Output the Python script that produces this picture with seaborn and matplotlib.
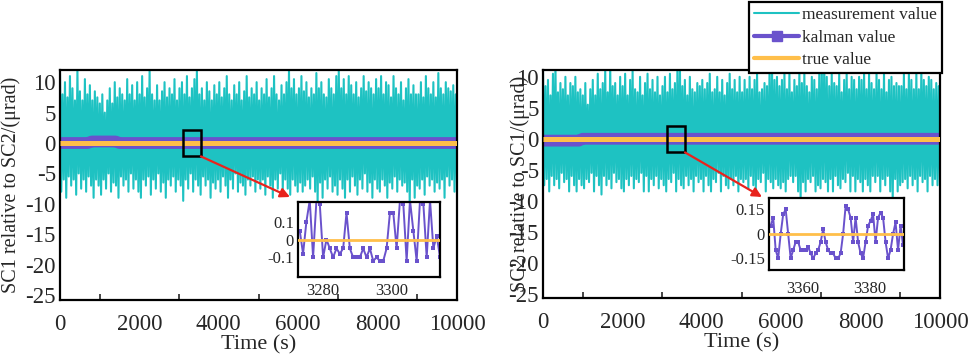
import numpy as np
import pandas as pd
import matplotlib
matplotlib.use("Agg")
import matplotlib.pyplot as plt
import seaborn as sns
from matplotlib.lines import Line2D
from matplotlib.patches import Rectangle
from matplotlib.ticker import MultipleLocator, FixedLocator

# ---------------- data ----------------
# measurement value envelope (alternating peaks/troughs read from the picture)
left_meas_hi = [
    11.5, 8, 10, 7.5, 11, 9, 7, 12, 8.5, 7, 10.5, 8, 9.5, 7, 8.5, 7.5,
    6.5, 8, 5, 7, 9, 6.5, 10, 7.5, 9, 8, 7, 10.5, 8, 9.5, 7, 10,
    8, 11, 7.5, 9, 12, 8, 7, 9.5, 7, 8.5, 10, 7.5, 9, 8, 10.5, 7,
    9, 10, 8, 11, 7.5, 9, 10.5, 12, 8, 9, 7, 10, 8.5, 7, 9.5, 8,
    10, 7.5, 9, 11, 8, 7, 9.5, 8, 10, 7, 8.5, 11, 7.5, 9, 8, 10,
    7, 9, 8, 10.5, 7.5, 9, 11, 8, 7, 9.5, 8, 10, 12, 9, 10.5, 8,
    9, 11, 8.5, 10, 7.5, 9, 8, 11.5, 9, 10, 8, 7.5, 10.5, 9, 8, 11,
    12, 9, 10.5, 8, 11, 9.5, 8, 10, 7.5, 9, 11, 8.5, 10, 9, 8, 10.5,
    9, 11, 8, 10, 9.5, 7.5, 11, 9, 8, 10, 7, 9, 10.5, 8, 9.5, 8,
    8, 10, 7.5, 11, 9, 8, 10, 7.5, 11.5, 9, 8, 10, 9, 8.5, 9.5, 8,
]
left_meas_lo = [
    -8, -6, -9, -5.5, -7, -6, -8.5, -5, -7.5, -6, -8, -5.5, -7, -9, -6, -7,
    -8.5, -6, -7.5, -5, -8, -6.5, -7, -9, -5.5, -7, -6, -8, -5, -7.5, -6, -8,
    -9, -6, -7, -5.5, -8.5, -6, -7.5, -5, -8, -6.5, -9, -6, -7, -5.5, -8, -6,
    -7, -9.5, -6, -7.5, -5, -8, -6, -7, -8.5, -5.5, -7, -6, -9, -6.5, -7.5, -6,
    -8, -5.5, -7, -9, -6, -7.5, -5, -8, -6.5, -7, -8.5, -6, -7, -5.5, -8, -6,
    -7.5, -6, -8.5, -5.5, -7, -9, -6, -7.5, -5, -8, -6, -7.5, -8.5, -6, -7, -8,
    -6.5, -8, -7, -6, -7.5, -5.5, -8, -10, -6.5, -9, -6, -7.5, -5.5, -8, -7, -8.5,
    -6, -7.5, -9, -6, -8, -5.5, -7, -8.5, -6, -7.5, -5, -8, -6.5, -9, -6, -7.5,
    -8, -6, -7, -9, -6.5, -7.5, -5.5, -8, -6, -7, -6.5, -8, -10, -6, -9, -7,
    -7.5, -6, -8.5, -5.5, -7, -6, -8, -6.5, -7.5, -6, -9, -5.5, -7, -6, -8, -6.5,
]
right_meas_hi = [
    11, 8.5, 9.5, 7, 10.5, 12, 7.5, 9, 8, 10, 7, 9, 8.5, 10, 7.5, 8,
    7, 9, 5.5, 8, 9.5, 7, 10.5, 8, 9, 11, 7.5, 12, 8.5, 9, 7, 10,
    8.5, 10.5, 7, 9.5, 11, 8, 7.5, 10, 7, 9, 10.5, 8, 9.5, 7.5, 10, 7,
    8.5, 10, 7.5, 10.5, 8, 9, 11, 12, 8.5, 9.5, 7, 10, 8, 7.5, 9, 8.5,
    9.5, 8, 9, 10.5, 7.5, 8, 10, 7.5, 9.5, 7, 9, 10.5, 8, 9.5, 7.5, 10,
    7.5, 9.5, 8, 10, 8, 9.5, 10.5, 7.5, 8, 9, 8.5, 10.5, 12, 9.5, 10, 8.5,
    9.5, 10.5, 8, 10.5, 7.5, 9.5, 8.5, 11, 9, 10.5, 8.5, 7.5, 10, 9.5, 8, 10.5,
    11.5, 12, 10, 8.5, 10.5, 9, 8.5, 10.5, 7.5, 9.5, 10.5, 8, 10, 9.5, 8, 10,
    9.5, 10.5, 8, 10.5, 9, 8, 10.5, 9.5, 8, 10.5, 7.5, 9.5, 10, 8.5, 9, 8.5,
    8.5, 10.5, 8, 10.5, 9.5, 8, 10.5, 8, 11, 9.5, 8.5, 10, 9.5, 8, 9, 8.5,
]
right_meas_lo = [
    -7.5, -6.5, -8.5, -6, -7.5, -6.5, -8, -5.5, -7, -6.5, -8.5, -6, -7.5, -8.5, -6.5, -7.5,
    -8, -6.5, -7, -5.5, -8.5, -6, -7.5, -9, -6, -7.5, -6.5, -8, -5.5, -7, -6.5, -8,
    -8.5, -6.5, -7.5, -6, -8, -6.5, -7, -5.5, -8.5, -6, -8.5, -6.5, -7.5, -6, -8, -6.5,
    -7.5, -8.5, -6.5, -7, -5.5, -8.5, -6.5, -7.5, -8, -6, -7.5, -6.5, -8.5, -6, -7, -6.5,
    -8.5, -6, -7.5, -8.5, -6.5, -7, -5.5, -8.5, -6, -7.5, -8, -6.5, -7.5, -6, -8.5, -6.5,
    -7, -6.5, -8, -6, -7.5, -8.5, -6.5, -7, -5.5, -8.5, -6.5, -7, -8, -6.5, -7.5, -8,
    -7, -8.5, -6.5, -6, -7, -6, -8.5, -10, -7, -8.5, -6.5, -7, -6, -8.5, -7.5, -8,
    -6.5, -7, -8.5, -6.5, -8.5, -6, -7.5, -8, -6.5, -7, -5.5, -8.5, -6, -8.5, -6.5, -7,
    -8.5, -6.5, -7.5, -8.5, -6, -7, -6, -8.5, -6.5, -7.5, -6, -8.5, -10, -6.5, -8.5, -7.5,
    -7, -6.5, -8, -6, -7.5, -6.5, -8.5, -6, -7, -6.5, -8.5, -6, -7.5, -6.5, -7.5, -7,
]

# kalman value over the full run (main panels)
left_kalman_t = [0, 700, 800, 1400, 1500, 10000]
left_kalman_v = [0.0, 0.0, 0.25, 0.25, 0.0, 0.0]
right_kalman_t = [0, 900, 1000, 10000]
right_kalman_v = [-0.3, -0.3, 0.0, 0.0]

# true value
true_t = [0, 10000]
true_v = [0, 0]

# zoomed (inset) kalman values
left_inset_t0 = 3273.3
left_inset_v = [
    0.05, -0.08, 0.1, 0.22, -0.1, 0.22, 0.2, -0.1, 0.0, -0.05,
    -0.1, -0.05, -0.08, -0.05, 0.15, -0.05, -0.1, -0.1, -0.1, -0.05,
    -0.1, -0.05, -0.12, -0.1, -0.12, -0.12, -0.05, 0.15, 0.15, -0.05,
    0.22, 0.2, -0.12, 0.22, 0.05, -0.12, 0.22, 0.2, -0.1, 0.22,
    -0.05, 0.02, -0.1,
]
right_inset_t0 = 3350.5
right_inset_v = [
    0.05, 0.1, -0.1, -0.15, 0.0, 0.12, 0.15, 0.0, -0.15, -0.1,
    -0.05, -0.05, -0.1, -0.1, -0.1, -0.08, -0.12, -0.15, -0.12, -0.1,
    -0.05, 0.03, -0.05, -0.1, -0.12, -0.12, -0.15, -0.15, -0.12, 0.0,
    0.17, 0.15, 0.1, -0.05, 0.1, -0.05, -0.12, -0.15, -0.05, 0.05,
    0.08, 0.12, -0.05, 0.1, 0.13, 0.1, -0.05, -0.15, -0.1, 0.0,
    0.07, -0.1, 0.05, -0.07,
]

xticks_main = [0, 2000, 4000, 6000, 8000, 10000]
yticks_main = [-25, -20, -15, -10, -5, 0, 5, 10]

# ---------------- style ----------------
sns.set_style("white")
plt.rcParams['font.family'] = ['Liberation Serif', 'DejaVu Serif']
plt.rcParams['axes.unicode_minus'] = False

CYAN = '#1ec2c2'
PURPLE = '#6a52cc'
ORANGE = '#ffbf4a'
RED = '#e8231d'

fig = plt.figure(figsize=(9.69, 3.57), dpi=100)
W, H = 969.0, 357.0


def px_rect(x0, y0, x1, y1):
    return [x0 / W, 1 - y1 / H, (x1 - x0) / W, (y1 - y0) / H]


def panel(rect, hi, lo, kt, kv, ylim, ylabel, ylab_x, box, inset_rect,
          it0, iv, istep, ixlim, iylim, ixmaj, ixmin, iyticks, iylabels,
          ixpad, arrow_end):
    ax = fig.add_axes(px_rect(*rect))
    n = len(hi)
    vals = np.empty(2 * n)
    vals[0::2] = hi
    vals[1::2] = lo
    t = np.linspace(0, 10000, 2 * n)
    meas = pd.DataFrame({"t": t, "v": vals})
    sns.lineplot(data=meas, x="t", y="v", ax=ax, color=CYAN, linewidth=1.5,
                 estimator=None, sort=False, zorder=1)
    sns.lineplot(x=kt, y=kv, ax=ax, color=PURPLE, linewidth=8.5,
                 estimator=None, sort=False, zorder=2, solid_capstyle='butt')
    sns.lineplot(x=true_t, y=true_v, ax=ax, color=ORANGE, linewidth=3.6,
                 estimator=None, sort=False, zorder=3, solid_capstyle='butt')
    ax.set_xlim(0, 10000)
    ax.set_ylim(*ylim)
    ax.set_xticks(xticks_main)
    ax.set_yticks(yticks_main)
    ax.xaxis.set_minor_locator(MultipleLocator(1000))
    ax.tick_params(axis='both', which='major', direction='in', length=8,
                   width=1.5, labelsize=16.5, top=False, right=False,
                   color='black')
    ax.tick_params(axis='x', which='major', pad=10)
    ax.tick_params(axis='y', which='major', pad=3)
    ax.tick_params(axis='x', which='minor', direction='in', length=4,
                   width=1.2, bottom=True, top=False)
    for s in ax.spines.values():
        s.set_linewidth(1.6)
        s.set_color('black')
    ax.set_xlabel("Time (s)", fontsize=16, labelpad=0)
    ax.set_ylabel(ylabel, fontsize=14.5)
    ax.yaxis.set_label_coords(ylab_x, 0.5)
    ax.add_patch(Rectangle((box[0], box[1]), box[2], box[3], fill=False,
                           edgecolor='black', linewidth=1.8, zorder=5))
    ax.annotate("", xy=arrow_end, xycoords='figure fraction',
                xytext=(box[0] + box[2], box[1]), textcoords='data',
                arrowprops=dict(arrowstyle='-|>', color=RED, lw=1.6,
                                mutation_scale=14, shrinkA=0, shrinkB=0),
                zorder=6, annotation_clip=False)

    axi = fig.add_axes(px_rect(*inset_rect))
    axi.set_zorder(10)
    axi.set_facecolor('white')
    it = it0 + istep * np.arange(len(iv))
    sns.lineplot(x=it, y=iv, ax=axi, color=PURPLE, linewidth=1.4,
                 marker='s', markersize=2.6, markeredgewidth=0,
                 estimator=None, sort=False, zorder=2)
    sns.lineplot(x=list(ixlim), y=[0, 0], ax=axi, color=ORANGE,
                 linewidth=2.0, estimator=None, sort=False, zorder=3)
    axi.set_xlim(*ixlim)
    axi.set_ylim(*iylim)
    axi.set_xticks(ixmaj)
    axi.xaxis.set_minor_locator(FixedLocator(ixmin))
    axi.set_yticks(iyticks)
    axi.set_yticklabels(iylabels)
    axi.tick_params(axis='both', which='major', direction='in', length=5,
                    width=1.5, labelsize=12, top=False, right=False)
    axi.tick_params(axis='x', which='major', pad=ixpad)
    axi.tick_params(axis='y', which='major', pad=3)
    axi.tick_params(axis='x', which='minor', direction='in', length=3,
                    width=1.2, top=False)
    axi.set_xlabel("")
    axi.set_ylabel("")
    for s in axi.spines.values():
        s.set_linewidth(1.6)
        s.set_color('black')
    return ax


ax1 = panel((60, 70, 457, 300), left_meas_hi, left_meas_lo,
            left_kalman_t, left_kalman_v, (-25.8, 12.0),
            "SC1 relative to SC2/(\u03bcrad)", -0.098,
            (3100, -2.2, 450, 4.3), (298, 202, 440, 277),
            left_inset_t0, left_inset_v, 0.967, (3272.8, 3313.9),
            (-0.21, 0.21), [3280, 3300], [3290, 3310],
            [-0.1, 0, 0.1], ["-0.1", "0", "0.1"], 4,
            (290 / W, 1 - 197 / H))

ax2 = panel((543, 70, 940, 298), right_meas_hi, right_meas_lo,
            right_kalman_t, right_kalman_v, (-25.7, 11.1),
            "SC2 relative to SC1/(\u03bcrad)", -0.033,
            (3123, -2.2, 454, 4.3), (769, 198, 904, 270),
            right_inset_t0, right_inset_v, 0.74, (3350, 3390),
            (-0.222, 0.22), [3360, 3380], [3370, 3390],
            [-0.15, 0, 0.15], ["-0.15", "0", "0.15"], 8,
            (762 / W, 1 - 197 / H))

handles = [
    Line2D([], [], color=CYAN, lw=1.5),
    Line2D([], [], color=PURPLE, lw=3.0, marker='s', markersize=7),
    Line2D([], [], color=ORANGE, lw=3.0),
]
labels = ["measurement value", "kalman value", "true value"]
leg = fig.legend(handles, labels, loc='upper right',
                 bbox_to_anchor=(942 / W, 1 - 2 / H),
                 bbox_transform=fig.transFigure, frameon=True, fancybox=False,
                 framealpha=1, edgecolor='black', fontsize=12.5,
                 handlelength=2.6, handletextpad=0.15, borderpad=0.3,
                 labelspacing=0.36, borderaxespad=0, numpoints=1)
leg.get_frame().set_linewidth(1.6)

fig.savefig("out.png", dpi=100)
